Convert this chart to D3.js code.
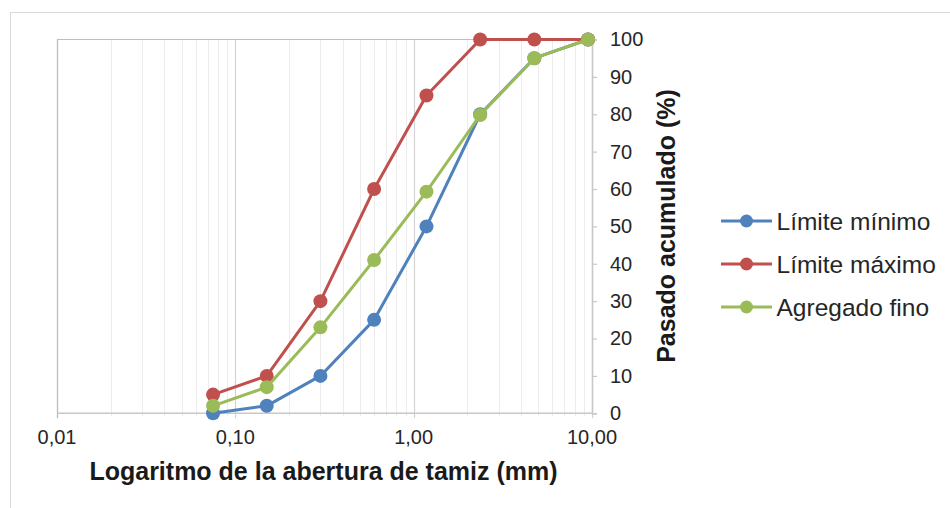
<!DOCTYPE html>
<html>
<head>
<meta charset="utf-8">
<script src="https://cdn.jsdelivr.net/npm/d3@7"></script>
<style>
  html, body { margin: 0; padding: 0; background: #fff; }
  svg { display: block; font-family: "Liberation Sans", Arial, sans-serif; }
</style>
</head>
<body>
<svg id="chart" width="950" height="508"></svg>
<script>
// Sieve openings (mm) and cumulative passing (%)
const aberturas = [0.075, 0.15, 0.3, 0.6, 1.18, 2.36, 4.75, 9.5];
const limiteMinimo = [0, 2, 10, 25, 50, 80, 95, 100];
const limiteMaximo = [5, 10, 30, 60, 85, 100, 100, 100];
const agregadoFino = [2, 7, 23, 41, 59.3, 79.8, 95, 100];

const seriesNames = ["Límite mínimo", "Límite máximo", "Agregado fino"];
const seriesColors = ["#4F81BD", "#C0504D", "#9BBB59"];
const seriesValues = [limiteMinimo, limiteMaximo, agregadoFino];

const xTicks = [0.01, 0.1, 1, 10];
const xTickLabels = ["0,01", "0,10", "1,00", "10,00"];
const yTicks = [0, 10, 20, 30, 40, 50, 60, 70, 80, 90, 100];

const svg = d3.select("#chart");

// Outer chart frame
svg.append("rect")
  .attr("x", 10.5).attr("y", 12.5)
  .attr("width", 960).attr("height", 520)
  .attr("fill", "none").attr("stroke", "#d9d9d9").attr("stroke-width", 1);

const plot = { left: 57, right: 592, top: 39.5, bottom: 413.3 };

const x = d3.scaleLog().domain([0.01, 10]).range([plot.left, plot.right]);
const y = d3.scaleLinear().domain([0, 100]).range([plot.bottom, plot.top]);

// Minor positions for each decade (2..9 × decade)
const minor = [];
[0.01, 0.1, 1].forEach(d => { for (let k = 2; k <= 9; k++) minor.push(d * k); });

const g = svg.append("g");

// Vertical gridlines
g.selectAll("line.minor").data(minor).join("line")
  .attr("class", "minor")
  .attr("x1", d => Math.round(x(d)) + 0.5).attr("x2", d => Math.round(x(d)) + 0.5)
  .attr("y1", plot.top).attr("y2", plot.bottom + 3)
  .attr("stroke", "#ececec").attr("stroke-width", 1);

g.selectAll("line.major").data(xTicks).join("line")
  .attr("class", "major")
  .attr("x1", d => Math.round(x(d)) + 0.5).attr("x2", d => Math.round(x(d)) + 0.5)
  .attr("y1", plot.top).attr("y2", plot.bottom + 5)
  .attr("stroke", "#d4d4d4").attr("stroke-width", 1.2);

// Plot-area top and left border
g.append("line")
  .attr("x1", plot.left).attr("x2", plot.right)
  .attr("y1", plot.top).attr("y2", plot.top)
  .attr("stroke", "#bdbdbd").attr("stroke-width", 1.2);
g.append("line")
  .attr("x1", plot.left + 0.5).attr("x2", plot.left + 0.5)
  .attr("y1", plot.top).attr("y2", plot.bottom + 5)
  .attr("stroke", "#bdbdbd").attr("stroke-width", 1.2);

// Bottom axis line
g.append("line")
  .attr("x1", plot.left).attr("x2", plot.right)
  .attr("y1", plot.bottom).attr("y2", plot.bottom)
  .attr("stroke", "#c8c8c8").attr("stroke-width", 1.5);

// Right y axis
const yAxis = d3.axisRight(y).tickValues(yTicks).tickSize(5).tickPadding(13)
  .tickFormat(d3.format("d"));
const yg = svg.append("g").attr("transform", `translate(${plot.right},0)`).call(yAxis);
yg.select(".domain").attr("stroke", "#c8c8c8").attr("stroke-width", 1.5);
yg.selectAll(".tick line").attr("stroke", "#c8c8c8").attr("stroke-width", 1.2);
yg.selectAll(".tick text")
  .attr("font-family", "'Liberation Sans', Arial, sans-serif")
  .attr("font-size", 20).attr("fill", "#262626");

// X tick labels
svg.append("g").selectAll("text").data(xTicks).join("text")
  .attr("x", d => x(d)).attr("y", 444)
  .attr("text-anchor", "middle")
  .attr("font-size", 20).attr("fill", "#262626")
  .text((d, i) => xTickLabels[i]);

// Axis titles
svg.append("text")
  .attr("x", 323.5).attr("y", 480)
  .attr("text-anchor", "middle")
  .attr("font-size", 25).attr("font-weight", "bold").attr("fill", "#1a1a1a")
  .text("Logaritmo de la abertura de tamiz (mm)");

svg.append("text")
  .attr("transform", "translate(675,226) rotate(-90)")
  .attr("text-anchor", "middle")
  .attr("font-size", 25).attr("font-weight", "bold").attr("fill", "#1a1a1a")
  .text("Pasado acumulado (%)");

// Series lines and markers
const line = d3.line().x(d => x(d[0])).y(d => y(d[1]));

seriesValues.forEach((vals, i) => {
  const pts = aberturas.map((a, j) => [a, vals[j]]);
  const s = svg.append("g");
  s.append("path").datum(pts)
    .attr("d", line).attr("fill", "none")
    .attr("stroke", seriesColors[i]).attr("stroke-width", 3)
    .attr("stroke-linejoin", "round");
  s.selectAll("circle").data(pts).join("circle")
    .attr("cx", d => x(d[0])).attr("cy", d => y(d[1]))
    .attr("r", 7).attr("fill", seriesColors[i]);
});

// Legend
const legend = svg.append("g");
const legendY = [221, 264, 307];
seriesNames.forEach((name, i) => {
  const lg = legend.append("g").attr("transform", `translate(0,${legendY[i]})`);
  lg.append("line").attr("x1", 721).attr("x2", 772).attr("y1", 0).attr("y2", 0)
    .attr("stroke", seriesColors[i]).attr("stroke-width", 3);
  lg.append("circle").attr("cx", 746.5).attr("cy", 0).attr("r", 6.5)
    .attr("fill", seriesColors[i]);
  lg.append("text").attr("x", 776.5).attr("y", 8.5)
    .attr("font-size", 24.5).attr("fill", "#262626").text(name);
});
</script>
</body>
</html>
